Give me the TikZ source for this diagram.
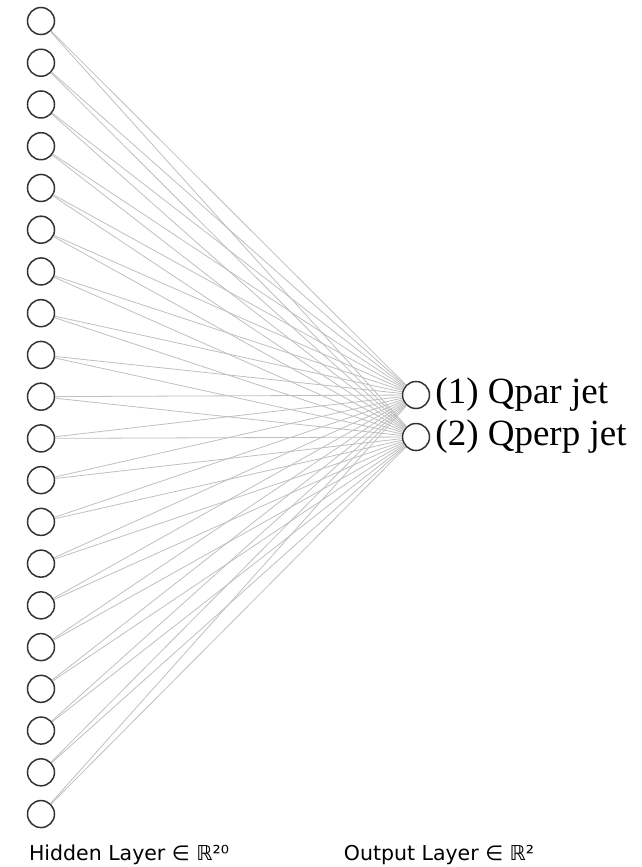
\documentclass[tikz,border=0pt]{standalone}
\usepackage{fontspec}
\setmainfont{Liberation Serif}
\newfontfamily\layerfont{DejaVu Sans}
\usetikzlibrary{positioning}

\tikzset{
    neuron/.style={circle, draw=black!80, line width=1.5pt, minimum size=27pt, inner sep=0pt},
    conn/.style={draw=black!25, line width=0.8pt},
    outlabel/.style={inner sep=0pt, font=\fontsize{37}{37}\selectfont},
    layerlabel/.style={anchor=base, inner sep=0pt, font=\layerfont\fontsize{20.5}{20.5}\selectfont}
}

\begin{document}
\begin{tikzpicture}[x=1pt, y=-1pt]
    \useasboundingbox (0,0) rectangle (641,867);

    % --- hidden layer: 20 neurons ---
    \foreach \i in {1,...,20} {
        \node[neuron] (h\i) at (41, {21 + (\i-1)*41.74}) {};
    }

    % --- output layer ---
    \node[neuron] (o1) at (416, 395) {};
    \node[neuron] (o2) at (416, 437) {};
    \node[outlabel, right=5pt of o1] (q1) {(1) Qpar jet};
    \node[outlabel, right=5pt of o2] (q2) {(2) Qperp jet};

    % connections
    \foreach \i in {1,...,20} {
        \foreach \j in {1,2} {
            \draw[conn] (h\i) -- (o\j);
        }
    }

    % layer names
    \node[layerlabel] (hname) at (129, 860) {Hidden Layer ∈ ℝ²⁰};
    \node[layerlabel] (oname) at (439, 860) {Output Layer ∈ ℝ²};
\end{tikzpicture}
\end{document}
